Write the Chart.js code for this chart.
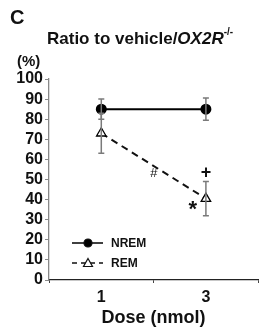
<!DOCTYPE html>
<html><head><meta charset="utf-8">
<script src="https://cdn.jsdelivr.net/npm/chart.js@4"></script>
<style>html,body{margin:0;padding:0;background:#fff}#wrap{width:265px;height:327px;position:relative}</style>
</head><body><div id="wrap"><canvas id="c" width="265" height="327"></canvas></div>
<script>
const doses = ['1', '3'];
const nremMean = [85, 85];
const nremErr = [5, 5.5];
const remMean = [73, 40.5];
const remErr = [10, 8.5];
const yTicks = [0,10,20,30,40,50,60,70,80,90,100];
const annotations = [
  {text: '+', x: 1, y: 53, dx: 0, font: 'bold 18px "Liberation Sans", Arial'},
  {text: '*', x: 1, y: 35, dx: -13, font: 'bold 22px "Liberation Sans", Arial'},
  {text: '#', x: 0.5, y: 53, dx: 0, font: 'italic 13px "Liberation Sans", Arial'}
];
const FONT = '"Liberation Sans", Arial, sans-serif';

const errorBars = {
  id: 'errorBars',
  afterDatasetsDraw(chart) {
    const {ctx, scales:{x, y}} = chart;
    const sets = [[nremMean, nremErr], [remMean, remErr]];
    ctx.save();
    ctx.strokeStyle = '#7a7a7a';
    ctx.lineWidth = 1.5;
    sets.forEach(([m, e]) => {
      m.forEach((v, i) => {
        const px = x.getPixelForValue(i);
        const top = y.getPixelForValue(v + e[i]);
        const bot = y.getPixelForValue(v - e[i]);
        ctx.beginPath();
        ctx.moveTo(px, top); ctx.lineTo(px, bot);
        ctx.moveTo(px - 3, top); ctx.lineTo(px + 3, top);
        ctx.moveTo(px - 3, bot); ctx.lineTo(px + 3, bot);
        ctx.stroke();
      });
    });
    ctx.restore();
  }
};

const decor = {
  id: 'decor',
  afterDraw(chart) {
    const {ctx, scales:{x, y}} = chart;
    ctx.save();
    ctx.fillStyle = '#111';
    ctx.textBaseline = 'alphabetic';
    ctx.textAlign = 'left';
    ctx.font = 'bold 20px ' + FONT;
    ctx.fillText('C', 10, 24);
    ctx.font = 'bold 17px ' + FONT;
    const t1 = 'Ratio to vehicle/';
    ctx.fillText(t1, 47, 44);
    let w = ctx.measureText(t1).width;
    ctx.font = 'italic bold 17px ' + FONT;
    ctx.fillText('OX2R', 47 + w, 44);
    w += ctx.measureText('OX2R').width;
    ctx.font = 'bold 10px ' + FONT;
    ctx.fillText('-/-', 47 + w, 35);
    ctx.font = 'bold 15px ' + FONT;
    ctx.fillText('(%)', 17, 66);
    ctx.textAlign = 'center';
    ctx.textBaseline = 'middle';
    annotations.forEach(a => {
      ctx.font = a.font;
      const px = x.getPixelForValue(a.x) + a.dx;
      ctx.fillText(a.text, px, y.getPixelForValue(a.y));
    });
    const legend = [
      {label: 'NREM', y: 243, dash: [], style: 'circle', fill: '#000'},
      {label: 'REM', y: 263, dash: [5, 4], style: 'triangle', fill: '#fff'}
    ];
    legend.forEach(l => {
      ctx.strokeStyle = '#111';
      ctx.lineWidth = 1.6;
      ctx.setLineDash(l.dash);
      ctx.beginPath(); ctx.moveTo(72, l.y); ctx.lineTo(103, l.y); ctx.stroke();
      ctx.setLineDash([]);
      ctx.fillStyle = l.fill;
      ctx.lineWidth = 1.2;
      ctx.beginPath();
      if (l.style === 'circle') { ctx.arc(88, l.y, 4, 0, Math.PI * 2); }
      else { ctx.moveTo(88, l.y - 4.5); ctx.lineTo(92.5, l.y + 3.5); ctx.lineTo(83.5, l.y + 3.5); ctx.closePath(); }
      ctx.fill(); ctx.stroke();
      ctx.fillStyle = '#111';
      ctx.font = 'bold 12px ' + FONT;
      ctx.textAlign = 'left';
      ctx.fillText(l.label, 111, l.y + 1);
    });
    ctx.restore();
  }
};

new Chart(document.getElementById('c'), {
  type: 'line',
  data: {
    labels: doses,
    datasets: [
      {label: 'NREM', data: nremMean, borderColor: '#000', backgroundColor: '#000', borderWidth: 2,
       pointStyle: 'circle', pointRadius: 4.5, pointBorderColor: '#000', pointBackgroundColor: '#000'},
      {label: 'REM', data: remMean, borderColor: '#111', borderWidth: 2, borderDash: [7, 5],
       pointStyle: 'triangle', pointRadius: 5.5, pointBorderWidth: 1.3, pointBorderColor: '#000', pointBackgroundColor: '#fff'}
    ]
  },
  options: {
    responsive: false, animation: false, devicePixelRatio: 1,
    layout: {padding: {top: 79, right: 2, left: 0, bottom: 0}},
    plugins: {legend: {display: false}, tooltip: {enabled: false}},
    scales: {
      x: {
        type: 'category', offset: true,
        grid: {offset: true, drawOnChartArea: false, tickLength: 3, color: '#444'},
        border: {color: '#222', width: 1.3},
        ticks: {color: '#111', font: {family: FONT, size: 16, weight: 'bold'}, padding: 5},
        title: {display: true, text: 'Dose (nmol)', color: '#111', font: {family: FONT, size: 18, weight: 'bold', lineHeight: 1}, padding: {top: 0, bottom: 0}},
        afterFit(s) { s.height = 47; }
      },
      y: {
        min: 0, max: 100,
        afterBuildTicks(s) { s.ticks = yTicks.map(v => ({value: v})); },
        grid: {drawOnChartArea: false, tickLength: 4, color: '#888'},
        border: {color: '#888', width: 1.3},
        ticks: {color: '#111', autoSkip: false, font: {family: FONT, size: 16, weight: 'bold'}, padding: 2},
        afterFit(s) { s.width = 49; }
      }
    }
  },
  plugins: [errorBars, decor]
});
</script></body></html>
